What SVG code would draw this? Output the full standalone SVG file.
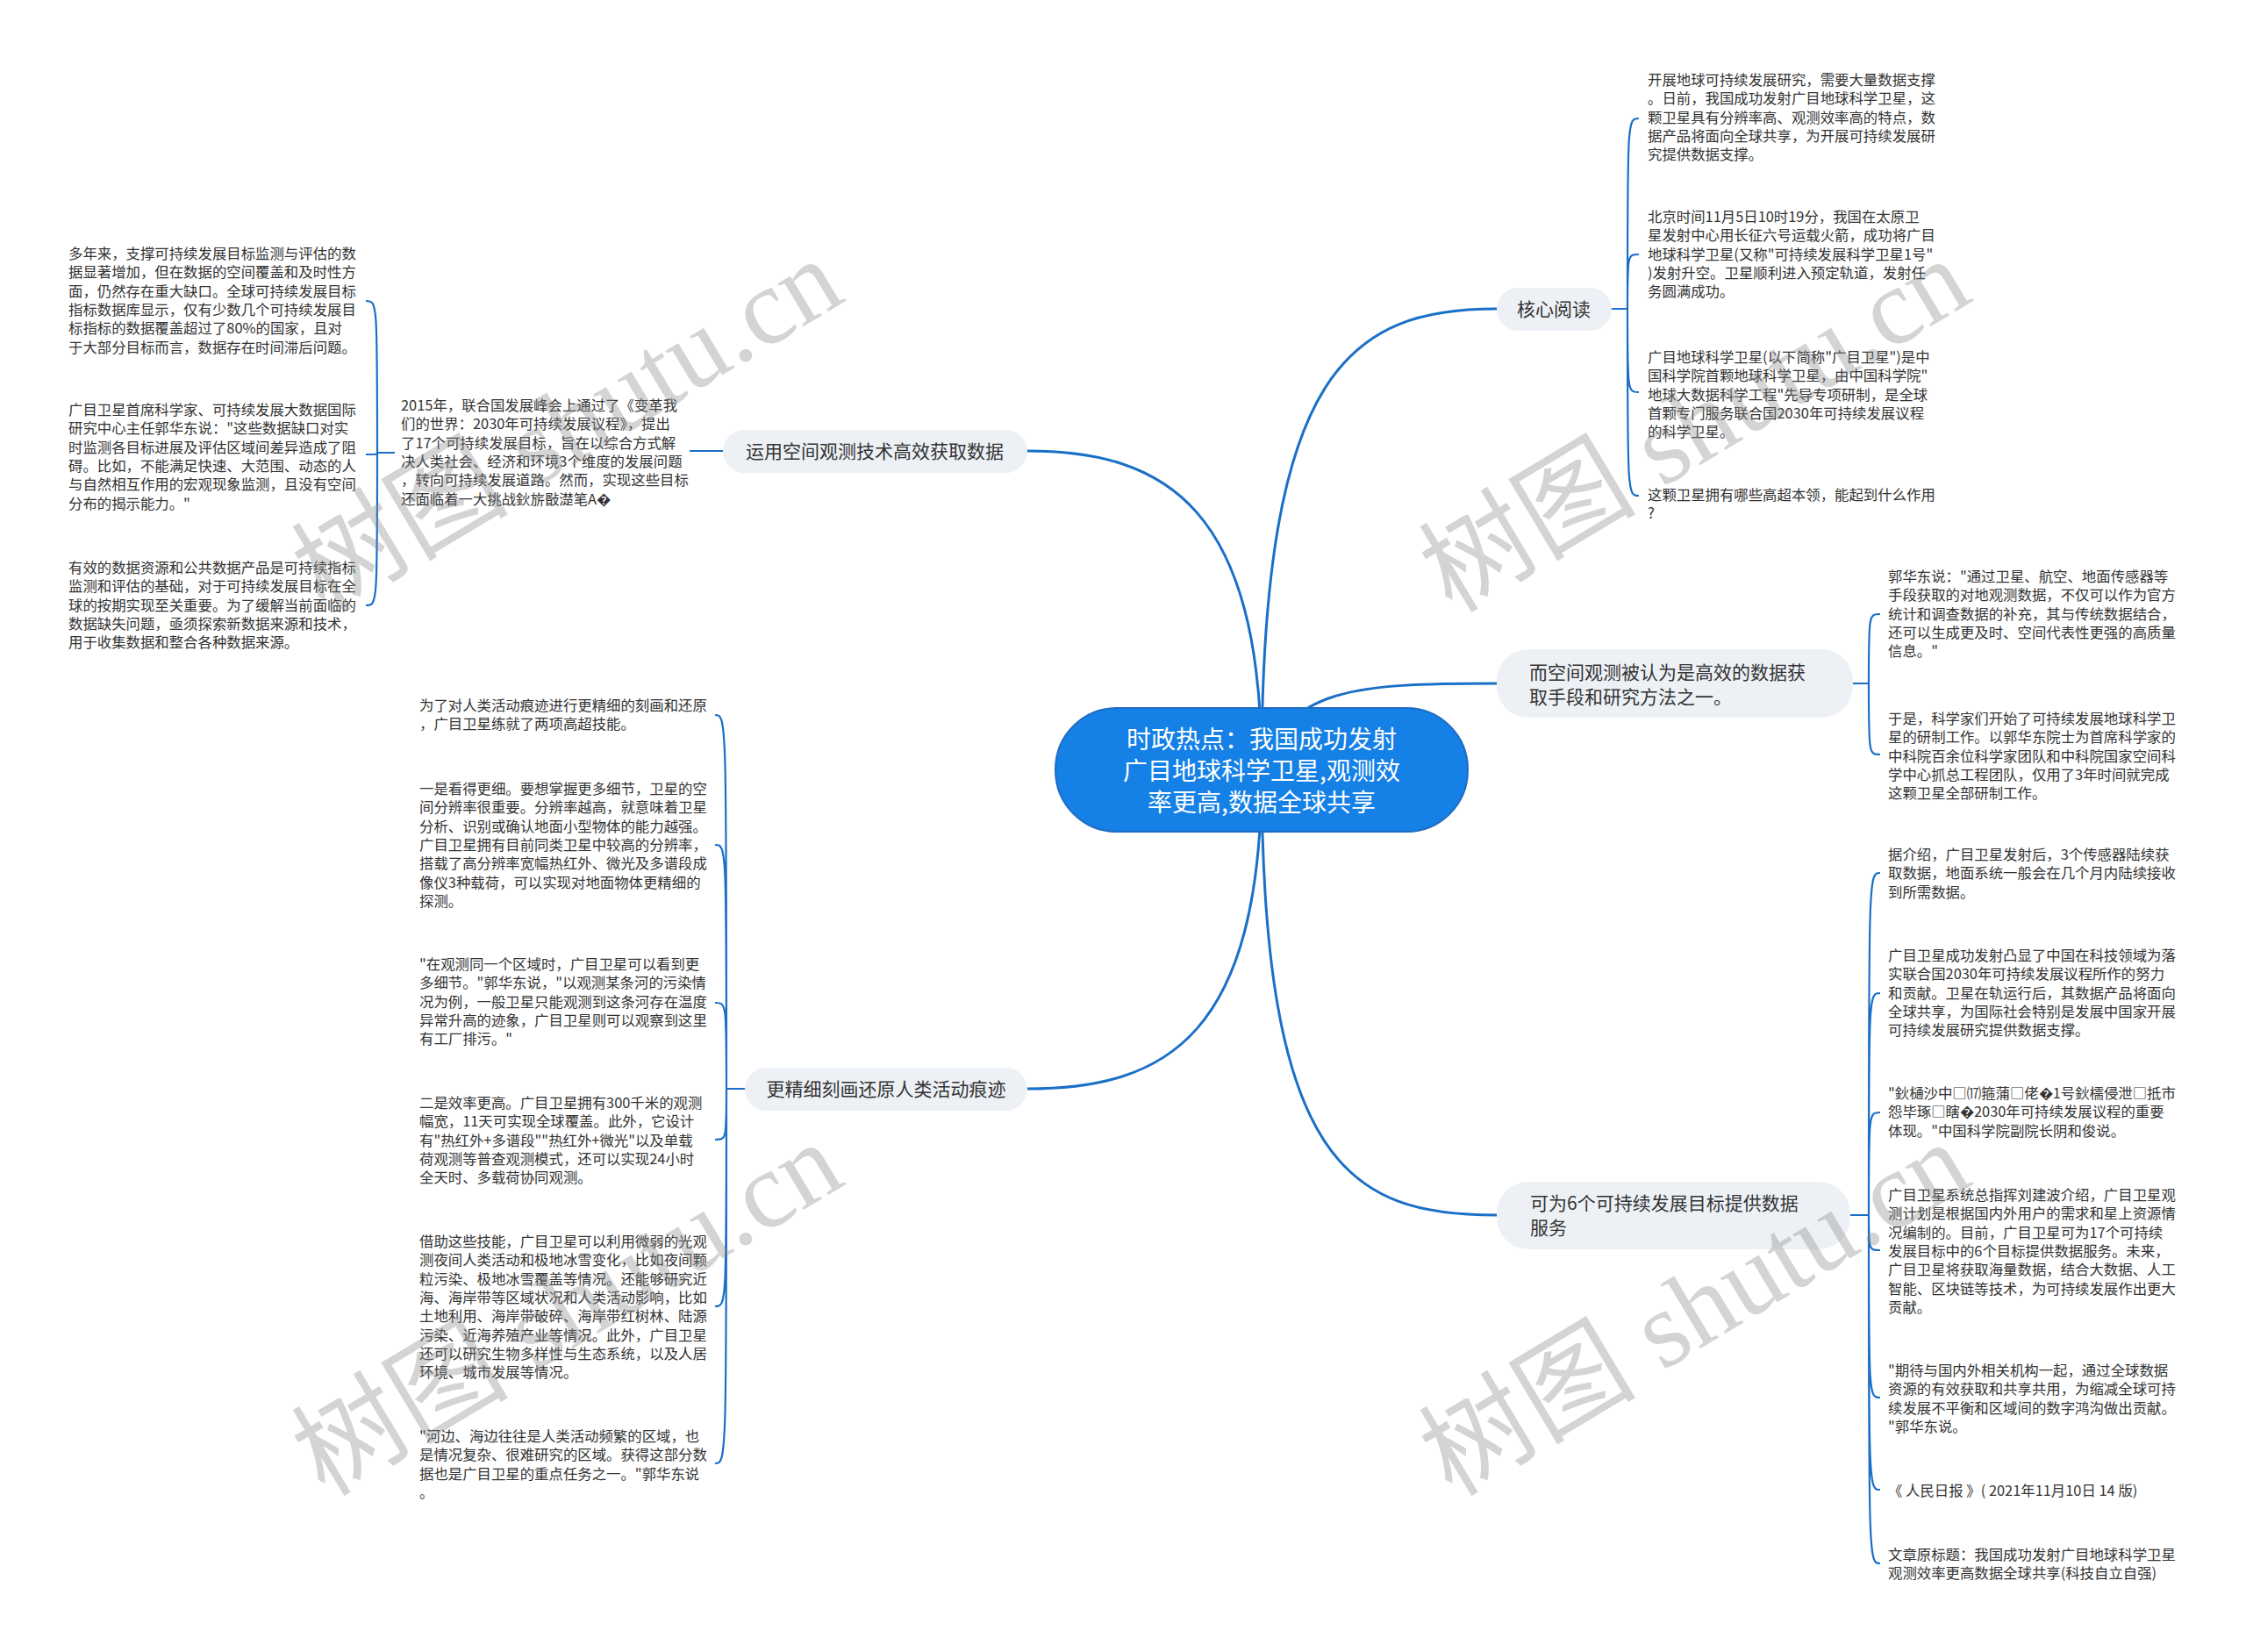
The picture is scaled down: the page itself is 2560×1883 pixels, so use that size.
<svg xmlns="http://www.w3.org/2000/svg" width="2560" height="1883" viewBox="0 0 2560 1883">
<style>
text{font-family:"Noto Sans CJK SC","Liberation Sans",sans-serif}
.t{font-size:16.4px;fill:#333}
.b{font-size:21px;fill:#333}
.c{font-size:28px;fill:#fff;text-anchor:middle}
.bn{fill:#edf1f6}
.m{fill:none;stroke:#1a6fc7;stroke-width:3}
.s{fill:none;stroke:#1a6fc7;stroke-width:2.2}
.wm{font-family:"Liberation Serif","Noto Sans CJK SC",serif;font-size:124px;fill:#8a8a8a;opacity:0.36}
</style>
<rect width="2560" height="1883" fill="#fff"/>
<g id="connectors">
<path class="m" d="M1438,877 C1438,420 1540,352 1706,352"/>
<path class="m" d="M1438,877 C1470,785 1540,779 1706,779"/>
<path class="m" d="M1438,877 C1438,1330 1540,1385 1706,1385"/>
<path class="m" d="M1438,877 C1438,580 1330,514 1171,514"/>
<path class="m" d="M1438,877 C1438,1180 1330,1241 1171,1241"/>
<path class="s" d="M1837,352 L1855,352 M1855,352 C1855,135 1855,135 1868,135 M1855,352 C1855,290 1855,290 1868,290 M1855,352 C1855,447 1855,447 1868,447 M1855,352 C1855,565 1855,565 1868,565"/>
<path class="s" d="M2112,779 L2130,779 M2130,779 C2130,700 2130,700 2143,700 M2130,779 C2130,860 2130,860 2143,860"/>
<path class="s" d="M2109,1385 L2130,1385 M2130,1385 C2130,995 2130,995 2143,995 M2130,1385 C2130,1132 2130,1132 2143,1132 M2130,1385 C2130,1268 2130,1268 2143,1268 M2130,1385 C2130,1425 2130,1425 2143,1425 M2130,1385 C2130,1593 2130,1593 2143,1593 M2130,1385 C2130,1698 2130,1698 2143,1698 M2130,1385 C2130,1782 2130,1782 2143,1782"/>
<path class="s" d="M824,514 L786,514"/>
<path class="s" d="M450,516 L430,516 M430,516 C430,343 430,343 417,343 M430,516 C430,518 430,518 417,518 M430,516 C430,690 430,690 417,690"/>
<path class="s" d="M849,1241 L828,1241 M828,1241 C828,815 828,815 815,815 M828,1241 C828,963 828,963 815,963 M828,1241 C828,1143 828,1143 815,1143 M828,1241 C828,1299 828,1299 815,1299 M828,1241 C828,1489 828,1489 815,1489 M828,1241 C828,1668 828,1668 815,1668"/>
</g>
<g id="center">
<rect x="1203" y="807" width="470" height="141" rx="70" fill="#1580e6" stroke="#1f6cc4" stroke-width="2"/>
<text class="c"><tspan x="1438" y="853">时政热点：我国成功发射</tspan><tspan x="1438" y="889">广目地球科学卫星,观测效</tspan><tspan x="1438" y="925">率更高,数据全球共享</tspan></text>
</g>
<g id="n-core">
<rect class="bn" x="1706" y="328" width="131" height="49" rx="24.5"/>
<text class="b" x="1771" y="360" text-anchor="middle">核心阅读</text>
</g>
<g id="n-space">
<rect class="bn" x="1706" y="740" width="406" height="78" rx="36"/>
<text class="b"><tspan x="1743" y="774">而空间观测被认为是高效的数据获</tspan><tspan x="1743" y="802">取手段和研究方法之一。</tspan></text>
</g>
<g id="n-six">
<rect class="bn" x="1706" y="1347" width="403" height="77" rx="36"/>
<text class="b"><tspan x="1744" y="1379">可为6个可持续发展目标提供数据</tspan><tspan x="1744" y="1407">服务</tspan></text>
</g>
<g id="n-use">
<rect class="bn" x="824" y="490" width="347" height="49" rx="24.5"/>
<text class="b" x="997" y="522" text-anchor="middle">运用空间观测技术高效获取数据</text>
</g>
<g id="n-fine">
<rect class="bn" x="849" y="1217" width="322" height="49" rx="24.5"/>
<text class="b" x="1010" y="1249" text-anchor="middle">更精细刻画还原人类活动痕迹</text>
</g>
<g id="core-1"><text class="t"><tspan x="1878" y="97">开展地球可持续发展研究，需要大量数据支撑</tspan><tspan x="1878" dy="21.3">。日前，我国成功发射广目地球科学卫星，这</tspan><tspan x="1878" dy="21.3">颗卫星具有分辨率高、观测效率高的特点，数</tspan><tspan x="1878" dy="21.3">据产品将面向全球共享，为开展可持续发展研</tspan><tspan x="1878" dy="21.3">究提供数据支撑。</tspan></text></g>
<g id="core-2"><text class="t"><tspan x="1878" y="253">北京时间11月5日10时19分，我国在太原卫</tspan><tspan x="1878" dy="21.3">星发射中心用长征六号运载火箭，成功将广目</tspan><tspan x="1878" dy="21.3">地球科学卫星(又称"可持续发展科学卫星1号"</tspan><tspan x="1878" dy="21.3">)发射升空。卫星顺利进入预定轨道，发射任</tspan><tspan x="1878" dy="21.3">务圆满成功。</tspan></text></g>
<g id="core-3"><text class="t"><tspan x="1878" y="413">广目地球科学卫星(以下简称"广目卫星")是中</tspan><tspan x="1878" dy="21.3">国科学院首颗地球科学卫星，由中国科学院"</tspan><tspan x="1878" dy="21.3">地球大数据科学工程"先导专项研制，是全球</tspan><tspan x="1878" dy="21.3">首颗专门服务联合国2030年可持续发展议程</tspan><tspan x="1878" dy="21.3">的科学卫星。</tspan></text></g>
<g id="core-4"><text class="t"><tspan x="1878" y="570">这颗卫星拥有哪些高超本领，能起到什么作用</tspan><tspan x="1878" dy="21.3">?</tspan></text></g>
<g id="space-1"><text class="t"><tspan x="2152" y="663">郭华东说："通过卫星、航空、地面传感器等</tspan><tspan x="2152" dy="21.3">手段获取的对地观测数据，不仅可以作为官方</tspan><tspan x="2152" dy="21.3">统计和调查数据的补充，其与传统数据结合，</tspan><tspan x="2152" dy="21.3">还可以生成更及时、空间代表性更强的高质量</tspan><tspan x="2152" dy="21.3">信息。"</tspan></text></g>
<g id="space-2"><text class="t"><tspan x="2152" y="825">于是，科学家们开始了可持续发展地球科学卫</tspan><tspan x="2152" dy="21.3">星的研制工作。以郭华东院士为首席科学家的</tspan><tspan x="2152" dy="21.3">中科院百余位科学家团队和中科院国家空间科</tspan><tspan x="2152" dy="21.3">学中心抓总工程团队，仅用了3年时间就完成</tspan><tspan x="2152" dy="21.3">这颗卫星全部研制工作。</tspan></text></g>
<g id="six-1"><text class="t"><tspan x="2152" y="980">据介绍，广目卫星发射后，3个传感器陆续获</tspan><tspan x="2152" dy="21.3">取数据，地面系统一般会在几个月内陆续接收</tspan><tspan x="2152" dy="21.3">到所需数据。</tspan></text></g>
<g id="six-2"><text class="t"><tspan x="2152" y="1095">广目卫星成功发射凸显了中国在科技领域为落</tspan><tspan x="2152" dy="21.3">实联合国2030年可持续发展议程所作的努力</tspan><tspan x="2152" dy="21.3">和贡献。卫星在轨运行后，其数据产品将面向</tspan><tspan x="2152" dy="21.3">全球共享，为国际社会特别是发展中国家开展</tspan><tspan x="2152" dy="21.3">可持续发展研究提供数据支撑。</tspan></text></g>
<g id="six-3"><text class="t"><tspan x="2152" y="1252">"鈥樋沙中□⒄箍蒲□佬�1号鈥檽侵泄□抵市</tspan><tspan x="2152" dy="21.3">怨毕琢□瞎�2030年可持续发展议程的重要</tspan><tspan x="2152" dy="21.3">体现。"中国科学院副院长阴和俊说。</tspan></text></g>
<g id="six-4"><text class="t"><tspan x="2152" y="1368">广目卫星系统总指挥刘建波介绍，广目卫星观</tspan><tspan x="2152" dy="21.3">测计划是根据国内外用户的需求和星上资源情</tspan><tspan x="2152" dy="21.3">况编制的。目前，广目卫星可为17个可持续</tspan><tspan x="2152" dy="21.3">发展目标中的6个目标提供数据服务。未来，</tspan><tspan x="2152" dy="21.3">广目卫星将获取海量数据，结合大数据、人工</tspan><tspan x="2152" dy="21.3">智能、区块链等技术，为可持续发展作出更大</tspan><tspan x="2152" dy="21.3">贡献。</tspan></text></g>
<g id="six-5"><text class="t"><tspan x="2152" y="1568">"期待与国内外相关机构一起，通过全球数据</tspan><tspan x="2152" dy="21.3">资源的有效获取和共享共用，为缩减全球可持</tspan><tspan x="2152" dy="21.3">续发展不平衡和区域间的数字鸿沟做出贡献。</tspan><tspan x="2152" dy="21.3">"郭华东说。</tspan></text></g>
<g id="six-6"><text class="t" x="2152" y="1705">《 人民日报 》( 2021年11月10日 14 版)</text></g>
<g id="six-7"><text class="t"><tspan x="2152" y="1778">文章原标题：我国成功发射广目地球科学卫星</tspan><tspan x="2152" dy="21.3">观测效率更高数据全球共享(科技自立自强)</tspan></text></g>
<g id="use-1"><text class="t"><tspan x="457" y="468">2015年，联合国发展峰会上通过了《变革我</tspan><tspan x="457" dy="21.3">们的世界：2030年可持续发展议程》，提出</tspan><tspan x="457" dy="21.3">了17个可持续发展目标，旨在以综合方式解</tspan><tspan x="457" dy="21.3">决人类社会、经济和环境3个维度的发展问题</tspan><tspan x="457" dy="21.3">，转向可持续发展道路。然而，实现这些目标</tspan><tspan x="457" dy="21.3">还面临着一大挑战鈥旂敯濋笔A�</tspan></text></g>
<g id="left-1"><text class="t"><tspan x="78" y="295">多年来，支撑可持续发展目标监测与评估的数</tspan><tspan x="78" dy="21.3">据显著增加，但在数据的空间覆盖和及时性方</tspan><tspan x="78" dy="21.3">面，仍然存在重大缺口。全球可持续发展目标</tspan><tspan x="78" dy="21.3">指标数据库显示，仅有少数几个可持续发展目</tspan><tspan x="78" dy="21.3">标指标的数据覆盖超过了80%的国家，且对</tspan><tspan x="78" dy="21.3">于大部分目标而言，数据存在时间滞后问题。</tspan></text></g>
<g id="left-2"><text class="t"><tspan x="78" y="473">广目卫星首席科学家、可持续发展大数据国际</tspan><tspan x="78" dy="21.3">研究中心主任郭华东说："这些数据缺口对实</tspan><tspan x="78" dy="21.3">时监测各目标进展及评估区域间差异造成了阻</tspan><tspan x="78" dy="21.3">碍。比如，不能满足快速、大范围、动态的人</tspan><tspan x="78" dy="21.3">与自然相互作用的宏观现象监测，且没有空间</tspan><tspan x="78" dy="21.3">分布的揭示能力。"</tspan></text></g>
<g id="left-3"><text class="t"><tspan x="78" y="653">有效的数据资源和公共数据产品是可持续指标</tspan><tspan x="78" dy="21.3">监测和评估的基础，对于可持续发展目标在全</tspan><tspan x="78" dy="21.3">球的按期实现至关重要。为了缓解当前面临的</tspan><tspan x="78" dy="21.3">数据缺失问题，亟须探索新数据来源和技术，</tspan><tspan x="78" dy="21.3">用于收集数据和整合各种数据来源。</tspan></text></g>
<g id="fine-1"><text class="t"><tspan x="478" y="810">为了对人类活动痕迹进行更精细的刻画和还原</tspan><tspan x="478" dy="21.3">，广目卫星练就了两项高超技能。</tspan></text></g>
<g id="fine-2"><text class="t"><tspan x="478" y="905">一是看得更细。要想掌握更多细节，卫星的空</tspan><tspan x="478" dy="21.3">间分辨率很重要。分辨率越高，就意味着卫星</tspan><tspan x="478" dy="21.3">分析、识别或确认地面小型物体的能力越强。</tspan><tspan x="478" dy="21.3">广目卫星拥有目前同类卫星中较高的分辨率，</tspan><tspan x="478" dy="21.3">搭载了高分辨率宽幅热红外、微光及多谱段成</tspan><tspan x="478" dy="21.3">像仪3种载荷，可以实现对地面物体更精细的</tspan><tspan x="478" dy="21.3">探测。</tspan></text></g>
<g id="fine-3"><text class="t"><tspan x="478" y="1105">"在观测同一个区域时，广目卫星可以看到更</tspan><tspan x="478" dy="21.3">多细节。"郭华东说，"以观测某条河的污染情</tspan><tspan x="478" dy="21.3">况为例，一般卫星只能观测到这条河存在温度</tspan><tspan x="478" dy="21.3">异常升高的迹象，广目卫星则可以观察到这里</tspan><tspan x="478" dy="21.3">有工厂排污。"</tspan></text></g>
<g id="fine-4"><text class="t"><tspan x="478" y="1263">二是效率更高。广目卫星拥有300千米的观测</tspan><tspan x="478" dy="21.3">幅宽，11天可实现全球覆盖。此外，它设计</tspan><tspan x="478" dy="21.3">有"热红外+多谱段""热红外+微光"以及单载</tspan><tspan x="478" dy="21.3">荷观测等普查观测模式，还可以实现24小时</tspan><tspan x="478" dy="21.3">全天时、多载荷协同观测。</tspan></text></g>
<g id="fine-5"><text class="t"><tspan x="478" y="1421">借助这些技能，广目卫星可以利用微弱的光观</tspan><tspan x="478" dy="21.3">测夜间人类活动和极地冰雪变化，比如夜间颗</tspan><tspan x="478" dy="21.3">粒污染、极地冰雪覆盖等情况。还能够研究近</tspan><tspan x="478" dy="21.3">海、海岸带等区域状况和人类活动影响，比如</tspan><tspan x="478" dy="21.3">土地利用、海岸带破碎、海岸带红树林、陆源</tspan><tspan x="478" dy="21.3">污染、近海养殖产业等情况。此外，广目卫星</tspan><tspan x="478" dy="21.3">还可以研究生物多样性与生态系统，以及人居</tspan><tspan x="478" dy="21.3">环境、城市发展等情况。</tspan></text></g>
<g id="fine-6"><text class="t"><tspan x="478" y="1643">"河边、海边往往是人类活动频繁的区域，也</tspan><tspan x="478" dy="21.3">是情况复杂、很难研究的区域。获得这部分数</tspan><tspan x="478" dy="21.3">据也是广目卫星的重点任务之一。"郭华东说</tspan><tspan x="478" dy="21.3">。</tspan></text></g>
<g id="watermarks">
<text class="wm" transform="translate(370,700) rotate(-31)">树图 shutu.cn</text>
<text class="wm" transform="translate(370,1707) rotate(-31)">树图 shutu.cn</text>
<text class="wm" transform="translate(1655,700) rotate(-31)">树图 shutu.cn</text>
<text class="wm" transform="translate(1655,1707) rotate(-31)">树图 shutu.cn</text>
</g>
</svg>
